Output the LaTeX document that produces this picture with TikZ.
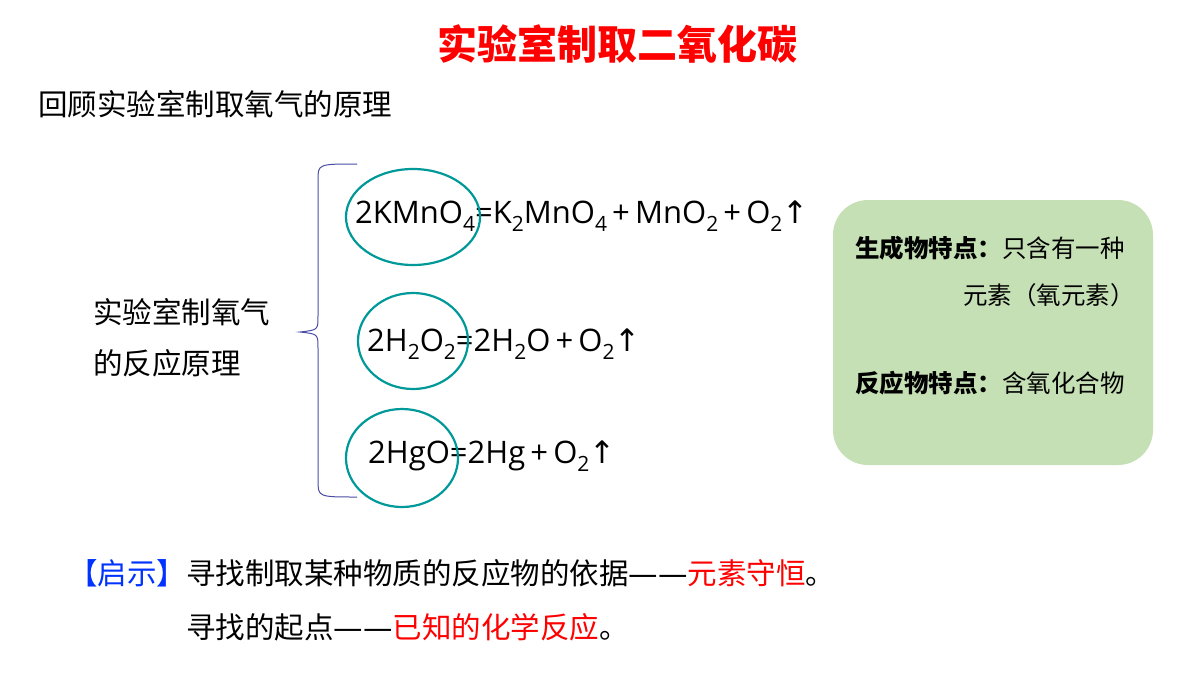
\documentclass[tikz,border=0pt]{standalone}
\usepackage{fontspec}
\setmainfont{Noto Sans CJK SC}
\newfontfamily\arr{DejaVu Sans}
\newfontfamily\eqf{Open Sans}
\newcommand{\sbb}[1]{\raisebox{-0.28em}{\fontsize{21}{21}\selectfont #1}}
\newcommand{\dsh}{{\arr ——}}
\begin{document}
\begin{tikzpicture}[x=1pt,y=-1pt,
  txt/.style={anchor=west,inner sep=0pt,font=\fontsize{29.5}{33}\selectfont},
  eq/.style={anchor=west,inner sep=0pt,font=\eqf\fontsize{31}{35}\selectfont}]
\useasboundingbox (0,0) rectangle (1200,675);
\fill[white] (0,0) rectangle (1200,675);
\node[inner sep=0pt,font=\fontsize{40}{44}\selectfont\bfseries,text=red] (title) at (617,44) {实验室制取二氧化碳};
\node[txt] (review) at (38,104) {回顾实验室制取氧气的原理};
\node[txt] (l1) at (93,312) {实验室制氧气};
\node[txt] (l2) at (93,363) {的反应原理};
\coordinate (bt) at (357,164);
\coordinate (bb) at (357,497);
\coordinate (btip) at (300,332);
\draw[blue!50!black!70,line width=1pt] (bt) .. controls (318,164) and (318,164) .. (318,180) -- (318,316) .. controls (318,330) .. (btip) .. controls (318,334) .. (318,348) -- (318,480) .. controls (318,497) .. (bb);
\node[eq] (e1) at (355,216) {2KMnO\sbb{4}=K\sbb{2}MnO\sbb{4}\,+\,MnO\sbb{2}\,+\,O\sbb{2}{\arr↑}};
\node[eq] (e2) at (367,344) {2H\sbb{2}O\sbb{2}=2H\sbb{2}O\,+\,O\sbb{2}{\arr↑}};
\node[eq] (e3) at (368,456) {2HgO=2Hg\,+\,O\sbb{2}{\arr↑}};
\draw[teal!80!cyan,line width=2.2pt] (413,217) ellipse (67 and 48);
\draw[teal!80!cyan,line width=2.2pt] (413,341) ellipse (55 and 48);
\draw[teal!80!cyan,line width=2.2pt] (402,458) ellipse (56 and 49);
\fill[fill={rgb,255:red,197;green,224;blue,180}] (833,200) [rounded corners=35pt] rectangle (1153,465);
\node[txt,font=\fontsize{24.5}{28}\selectfont] (f1) at (855,248) {\textbf{生成物特点：}只含有一种};
\node[txt,anchor=east,font=\fontsize{24.5}{28}\selectfont] (f2) at (1135,295) {元素（氧元素）};
\node[txt,font=\fontsize{24.5}{28}\selectfont] (f3) at (855,383) {\textbf{反应物特点：}含氧化合物};
\node[txt,font=\fontsize{29.5}{33}\selectfont] (h1) at (68,573) {\textcolor{blue!80!cyan}{【启示】}寻找制取某种物质的反应物的依据\dsh\textcolor{red}{元素守恒}。};
\node[txt,font=\fontsize{29.5}{33}\selectfont] (h2) at (186,627) {寻找的起点\dsh\textcolor{red}{已知的化学反应}。};
\end{tikzpicture}
\end{document}
